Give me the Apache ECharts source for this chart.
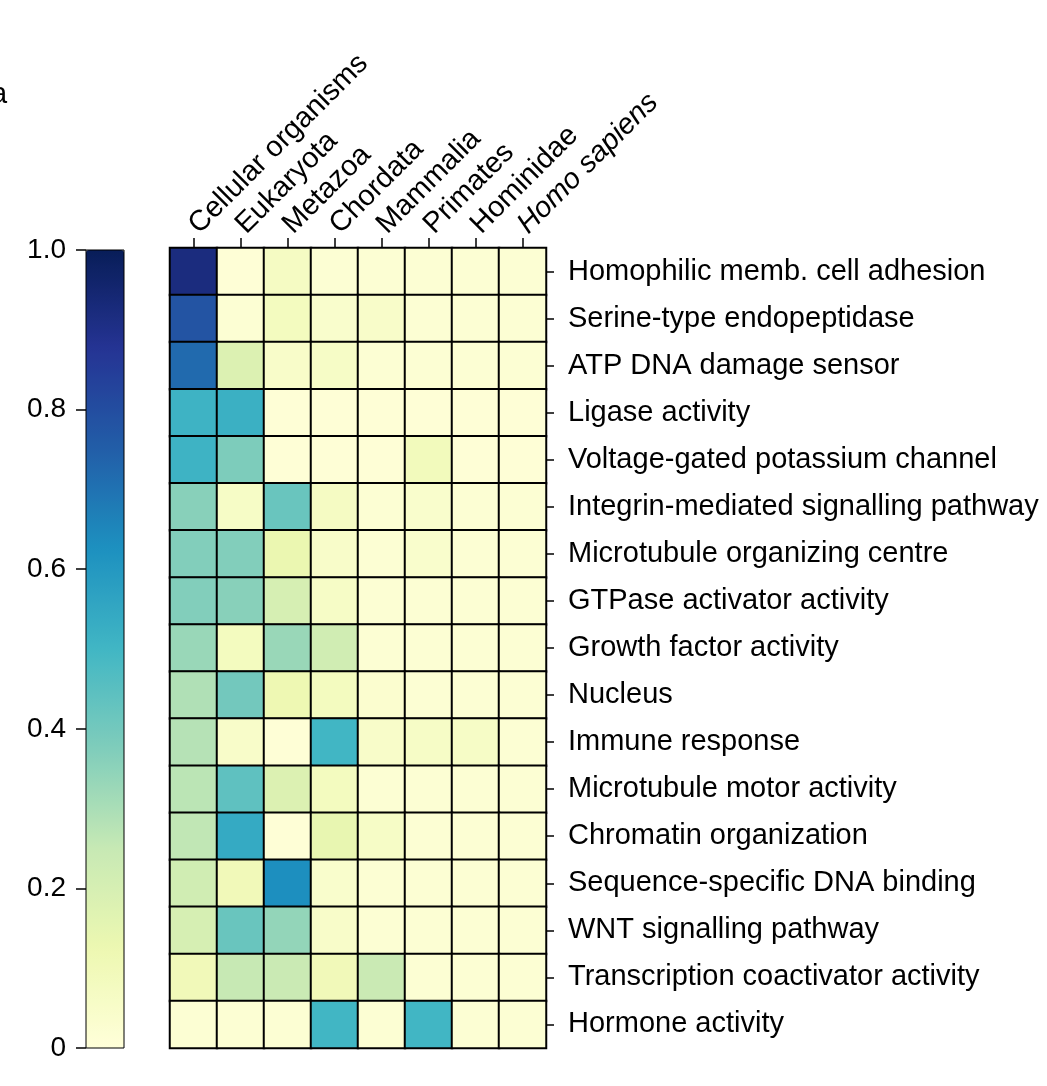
<!DOCTYPE html>
<html>
<head>
<meta charset="utf-8">
<script src="https://cdn.jsdelivr.net/npm/echarts@6/dist/echarts.min.js"></script>
<style>
html,body{margin:0;padding:0;background:#fff;}
#chart{width:1047px;height:1086px;}
</style>
</head>
<body>
<div id="chart"></div>
<script>
const taxa = ['Cellular organisms','Eukaryota','Metazoa','Chordata','Mammalia','Primates','Hominidae','Homo sapiens'];
const terms = [
  'Homophilic memb. cell adhesion',
  'Serine-type endopeptidase',
  'ATP DNA damage sensor',
  'Ligase activity',
  'Voltage-gated potassium channel',
  'Integrin-mediated signalling pathway',
  'Microtubule organizing centre',
  'GTPase activator activity',
  'Growth factor activity',
  'Nucleus',
  'Immune response',
  'Microtubule motor activity',
  'Chromatin organization',
  'Sequence-specific DNA binding',
  'WNT signalling pathway',
  'Transcription coactivator activity',
  'Hormone activity'
];
// one row per term, values in taxa order
const values = [
  [0.92,0.01,0.07,0.02,0.02,0.02,0.02,0.02],
  [0.78,0.02,0.08,0.04,0.05,0.02,0.02,0.02],
  [0.72,0.18,0.05,0.06,0.02,0.02,0.02,0.02],
  [0.51,0.52,0.01,0.01,0.01,0.01,0.01,0.01],
  [0.51,0.38,0.01,0.01,0.01,0.09,0.01,0.01],
  [0.36,0.06,0.42,0.07,0.02,0.04,0.02,0.02],
  [0.37,0.37,0.13,0.05,0.02,0.04,0.02,0.02],
  [0.37,0.36,0.20,0.06,0.02,0.02,0.02,0.02],
  [0.33,0.08,0.33,0.22,0.02,0.02,0.02,0.02],
  [0.29,0.40,0.12,0.08,0.03,0.02,0.02,0.02],
  [0.28,0.05,0.01,0.50,0.05,0.06,0.06,0.02],
  [0.27,0.44,0.18,0.08,0.02,0.02,0.02,0.02],
  [0.26,0.54,0.01,0.14,0.06,0.02,0.02,0.02],
  [0.22,0.10,0.63,0.04,0.02,0.02,0.02,0.02],
  [0.20,0.42,0.34,0.05,0.02,0.02,0.02,0.02],
  [0.10,0.25,0.24,0.10,0.24,0.02,0.02,0.02],
  [0.02,0.02,0.02,0.50,0.02,0.50,0.02,0.02]
];
const colorTicks = [0, 0.2, 0.4, 0.6, 0.8, 1.0];
const palette = ['#ffffd9','#edf8b1','#c7e9b4','#7fcdbb','#41b6c4','#1d91c0','#225ea8','#253494','#081d58'];

const data = [];
values.forEach((row, r) => row.forEach((v, c) => data.push([c, r, v])));

const font = 'Liberation Sans, Arial, Helvetica, sans-serif';
const fs = 29;
const chart = echarts.init(document.getElementById('chart'));
chart.setOption({
  animation: false,
  backgroundColor: '#fff',
  textStyle: {fontFamily: font},
  graphic: [{type:'text', left: -9, top: 80, style:{text:'a', font: fs + 'px "Liberation Sans", Arial, sans-serif', fill:'#000'}}],
  grid: [
    {left: 170, top: 248, width: 376, height: 800},
    {left: 86, top: 250, width: 38, height: 798, show: true, borderColor: '#000', borderWidth: 1, backgroundColor: 'transparent', z: 5}
  ],
  xAxis: [
    {type:'category', gridIndex:0, data: taxa, position:'top',
     axisLine:{show:false}, splitLine:{show:false},
     axisTick:{show:true, alignWithLabel:true, length:10, lineStyle:{color:'#000', width:1.5}},
     axisLabel:{rotate:-45, margin:19, fontSize:fs, color:'#000', interval:0,
       formatter: v => v === 'Homo sapiens' ? '{i|' + v + '}' : v,
       rich:{i:{fontStyle:'italic', fontSize:fs, color:'#000', fontFamily: font}}}},
    {type:'value', gridIndex:1, show:false, min:0, max:1}
  ],
  yAxis: [
    {type:'category', gridIndex:0, data: terms, position:'right', inverse:true,
     axisLine:{show:false}, splitLine:{show:false},
     axisTick:{show:true, alignWithLabel:true, length:8, lineStyle:{color:'#000', width:1.5}},
     axisLabel:{margin:22, fontSize:fs, color:'#000', interval:0}},
    {type:'value', gridIndex:1, position:'left', min:0, max:1, interval:0.2,
     axisLine:{show:false}, splitLine:{show:false},
     axisTick:{show:true, length:10, lineStyle:{color:'#000', width:1.5}},
     axisLabel:{margin:20, fontSize:28, color:'#000',
       formatter: v => v === 0 ? '0' : v.toFixed(1)}}
  ],
  visualMap: {
    type:'continuous', min:0, max:1, seriesIndex:0, calculable:false,
    orient:'vertical', left:86, top:250, itemWidth:38, itemHeight:798,
    padding:0, text:null, showLabel:false, hoverLink:false,
    inRange:{color: palette}
  },
  series: [{
    type:'heatmap', xAxisIndex:0, yAxisIndex:0, data: data,
    itemStyle:{borderColor:'#000', borderWidth:2},
    emphasis:{disabled:true}
  }]
});
</script>
</body>
</html>
